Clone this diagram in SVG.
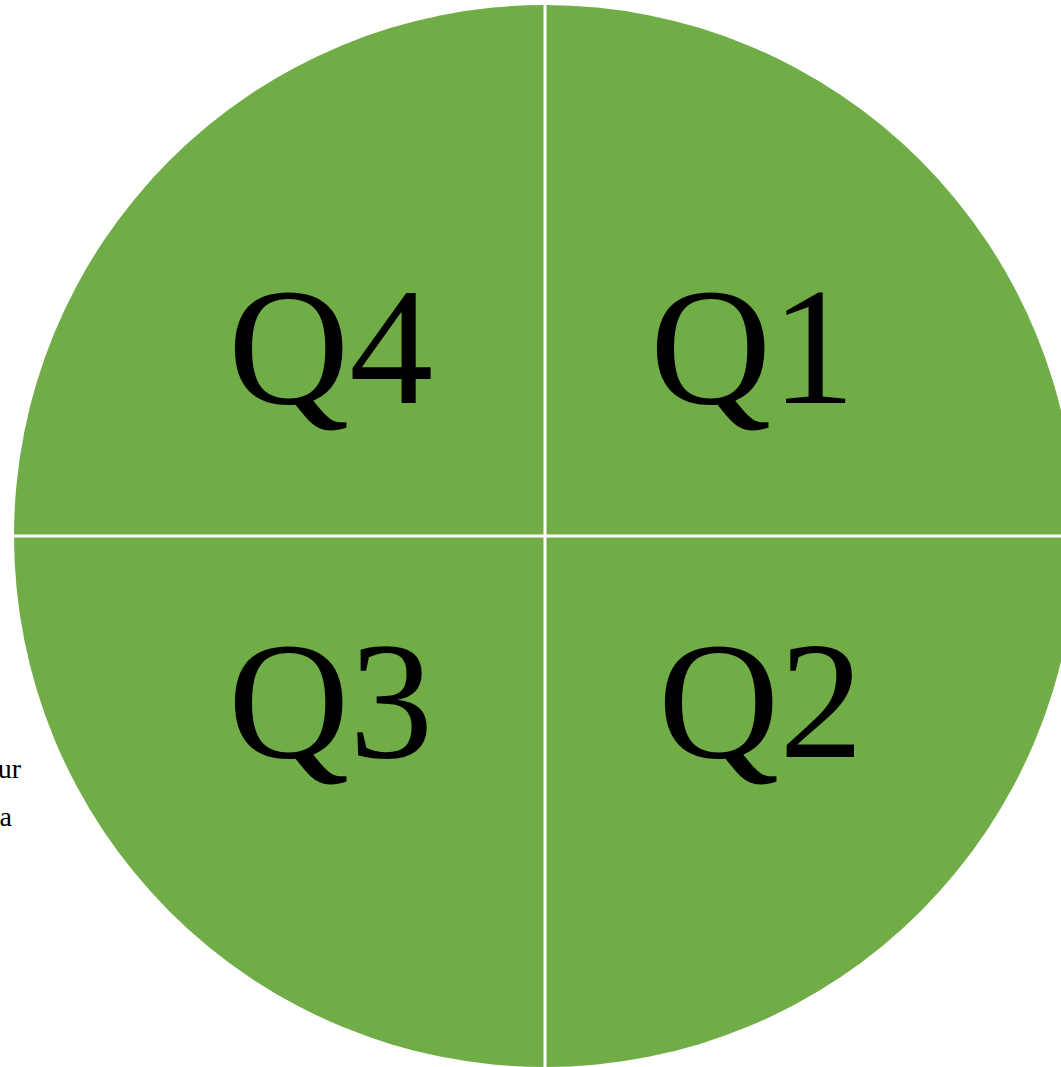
<svg xmlns="http://www.w3.org/2000/svg" width="1061" height="1067" viewBox="0 0 1061 1067">
<style>
.q{fill:#70ad47}
.lbl{font-family:"Liberation Serif","Times New Roman",serif;font-size:168px;fill:#000}
.side{font-family:"Liberation Serif","Times New Roman",serif;font-size:28px;fill:#000}
.sep{stroke:#fff;stroke-width:3}
</style>
<rect width="1061" height="1067" fill="#fff"/>
<text class="side" x="21" y="778" text-anchor="end">ur</text>
<text class="side" x="12" y="826" text-anchor="end">a</text>
<g id="circle">
<circle class="q" cx="545" cy="536" r="531"/>
</g>
<g id="connectors">
<line class="sep" x1="545" y1="0" x2="545" y2="1067"/>
<line class="sep" x1="0" y1="536" x2="1061" y2="536"/>
</g>
<g id="q4"><text class="lbl" x="228" y="403">Q4</text></g>
<g id="q1"><text class="lbl" x="650" y="403">Q1</text></g>
<g id="q3"><text class="lbl" x="228" y="757">Q3</text></g>
<g id="q2"><text class="lbl" x="658" y="757">Q2</text></g>
</svg>
